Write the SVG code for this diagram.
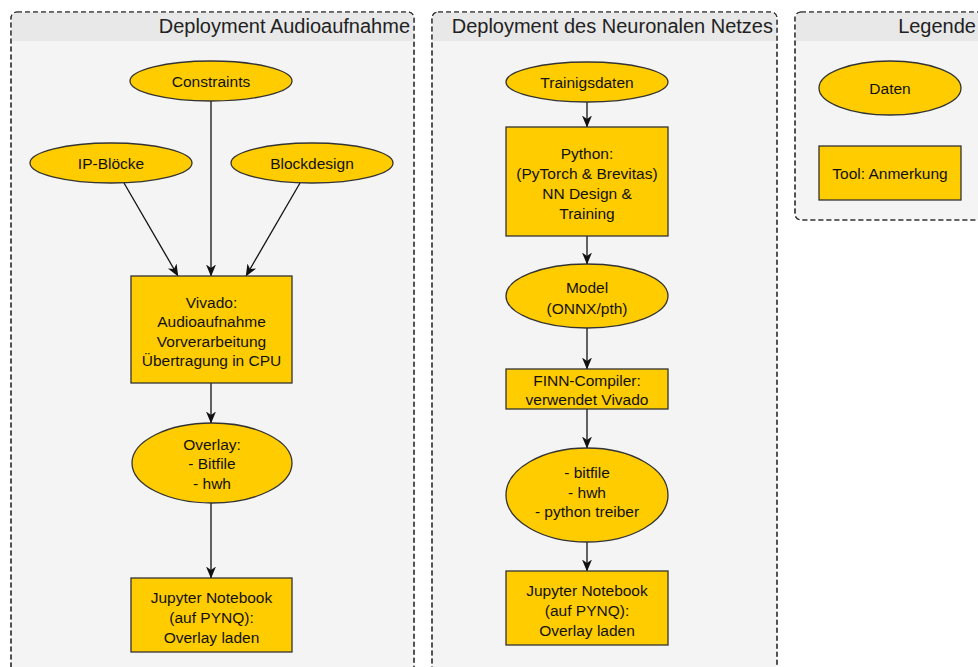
<svg xmlns="http://www.w3.org/2000/svg" width="978" height="667" viewBox="0 0 978 667">
<style>
.cont{fill:#f4f4f4;stroke:#333;stroke-width:1.2;stroke-dasharray:5 3}
.hdr{fill:#e8e8e8}
.title{font-family:"Liberation Sans",Arial,sans-serif;font-size:20px;fill:#222;text-anchor:end}
.node{fill:#ffcc00;stroke:#333;stroke-width:1.3}
.lbl{font-family:"Liberation Sans",Arial,sans-serif;font-size:15.5px;fill:#111;text-anchor:middle;dominant-baseline:central}
.edge{fill:none;stroke:#111;stroke-width:1.3}
</style>
<defs>
<marker id="arr" viewBox="0 0 12 12" refX="11.5" refY="6" markerWidth="12" markerHeight="12" markerUnits="userSpaceOnUse" orient="auto">
<path d="M0,1 L12,6 L0,11 L3.5,6 z" fill="#111"/>
</marker>
</defs>
<rect width="978" height="667" fill="#ffffff"/>
<g id="container-audio">
<rect class="cont" x="11" y="12" width="403" height="680" rx="6"/>
<path class="hdr" d="M17,12.6 H408 Q413.4,12.6 413.4,18 V41 H11.6 V18 Q11.6,12.6 17,12.6 z"/>
<rect x="11" y="12" width="403" height="680" rx="6" fill="none" stroke="#333" stroke-width="1.2" stroke-dasharray="5 3"/>
<text class="title" x="410" y="33">Deployment Audioaufnahme</text>
</g>
<g id="container-nn">
<rect class="cont" x="432" y="12" width="345" height="680" rx="6"/>
<path class="hdr" d="M438,12.6 H771 Q776.4,12.6 776.4,18 V41 H432.6 V18 Q432.6,12.6 438,12.6 z"/>
<rect x="432" y="12" width="345" height="680" rx="6" fill="none" stroke="#333" stroke-width="1.2" stroke-dasharray="5 3"/>
<text class="title" x="773" y="33">Deployment des Neuronalen Netzes</text>
</g>
<g id="container-legend">
<rect class="cont" x="795" y="12" width="220" height="208" rx="6"/>
<path class="hdr" d="M801,12.6 H1014 V41 H795.6 V18 Q795.6,12.6 801,12.6 z"/>
<rect x="795" y="12" width="220" height="208" rx="6" fill="none" stroke="#333" stroke-width="1.2" stroke-dasharray="5 3"/>
<text class="title" x="976" y="33">Legende</text>
</g>
<g id="connectors">
<path class="edge" marker-end="url(#arr)" d="M211,101 L211,276"/>
<path class="edge" marker-end="url(#arr)" d="M124,183 L178,276"/>
<path class="edge" marker-end="url(#arr)" d="M300,183 L246,276"/>
<path class="edge" marker-end="url(#arr)" d="M211,383 L211,423"/>
<path class="edge" marker-end="url(#arr)" d="M211,503 L211,578"/>
<path class="edge" marker-end="url(#arr)" d="M587,102 L587,127"/>
<path class="edge" marker-end="url(#arr)" d="M587,236 L587,264"/>
<path class="edge" marker-end="url(#arr)" d="M587,328 L587,369"/>
<path class="edge" marker-end="url(#arr)" d="M587,409 L587,448"/>
<path class="edge" marker-end="url(#arr)" d="M587,542 L587,571"/>
</g>
<g id="constraints">
<ellipse class="node" cx="211" cy="81" rx="81" ry="20"/>
<text class="lbl" x="211" y="81">Constraints</text>
</g>
<g id="ip-bloecke">
<ellipse class="node" cx="111" cy="163" rx="81" ry="20"/>
<text class="lbl" x="111" y="163">IP-Blöcke</text>
</g>
<g id="blockdesign">
<ellipse class="node" cx="312" cy="163" rx="81" ry="20"/>
<text class="lbl" x="312" y="163">Blockdesign</text>
</g>
<g id="vivado">
<rect class="node" x="131" y="276" width="161" height="107"/>
<text class="lbl" x="211.5" y="302">Vivado:</text>
<text class="lbl" x="211.5" y="321.5">Audioaufnahme</text>
<text class="lbl" x="211.5" y="341">Vorverarbeitung</text>
<text class="lbl" x="211.5" y="360.5">Übertragung in CPU</text>
</g>
<g id="overlay">
<ellipse class="node" cx="212" cy="463" rx="80" ry="40"/>
<text class="lbl" x="212" y="444">Overlay:</text>
<text class="lbl" x="212" y="463.5">- Bitfile</text>
<text class="lbl" x="212" y="483">- hwh</text>
</g>
<g id="jupyter-1">
<rect class="node" x="131" y="578" width="161" height="74"/>
<text class="lbl" x="211.5" y="597.5">Jupyter Notebook</text>
<text class="lbl" x="211.5" y="617.5">(auf PYNQ):</text>
<text class="lbl" x="211.5" y="637.5">Overlay laden</text>
</g>
<g id="trainingsdaten">
<ellipse class="node" cx="587" cy="82" rx="81" ry="20"/>
<text class="lbl" x="587" y="82">Trainigsdaten</text>
</g>
<g id="python">
<rect class="node" x="506" y="127" width="162" height="109"/>
<text class="lbl" x="587" y="153">Python:</text>
<text class="lbl" x="587" y="173">(PyTorch &amp; Brevitas)</text>
<text class="lbl" x="587" y="193">NN Design &amp;</text>
<text class="lbl" x="587" y="213">Training</text>
</g>
<g id="model">
<ellipse class="node" cx="587" cy="296" rx="81" ry="32"/>
<text class="lbl" x="587" y="287">Model</text>
<text class="lbl" x="587" y="308">(ONNX/pth)</text>
</g>
<g id="finn">
<rect class="node" x="506" y="369" width="162" height="40"/>
<text class="lbl" x="587" y="380">FINN-Compiler:</text>
<text class="lbl" x="587" y="399.5">verwendet Vivado</text>
</g>
<g id="bitfile">
<ellipse class="node" cx="587" cy="495" rx="81" ry="47"/>
<text class="lbl" x="587" y="472">- bitfile</text>
<text class="lbl" x="587" y="492">- hwh</text>
<text class="lbl" x="587" y="511.5">- python treiber</text>
</g>
<g id="jupyter-2">
<rect class="node" x="506" y="571" width="162" height="74"/>
<text class="lbl" x="587" y="590">Jupyter Notebook</text>
<text class="lbl" x="587" y="610.5">(auf PYNQ):</text>
<text class="lbl" x="587" y="630.5">Overlay laden</text>
</g>
<g id="legend-daten">
<ellipse class="node" cx="890" cy="88" rx="71" ry="27"/>
<text class="lbl" x="890" y="88">Daten</text>
</g>
<g id="legend-tool">
<rect class="node" x="819" y="146" width="142" height="54"/>
<text class="lbl" x="890" y="173.5">Tool: Anmerkung</text>
</g>
</svg>
